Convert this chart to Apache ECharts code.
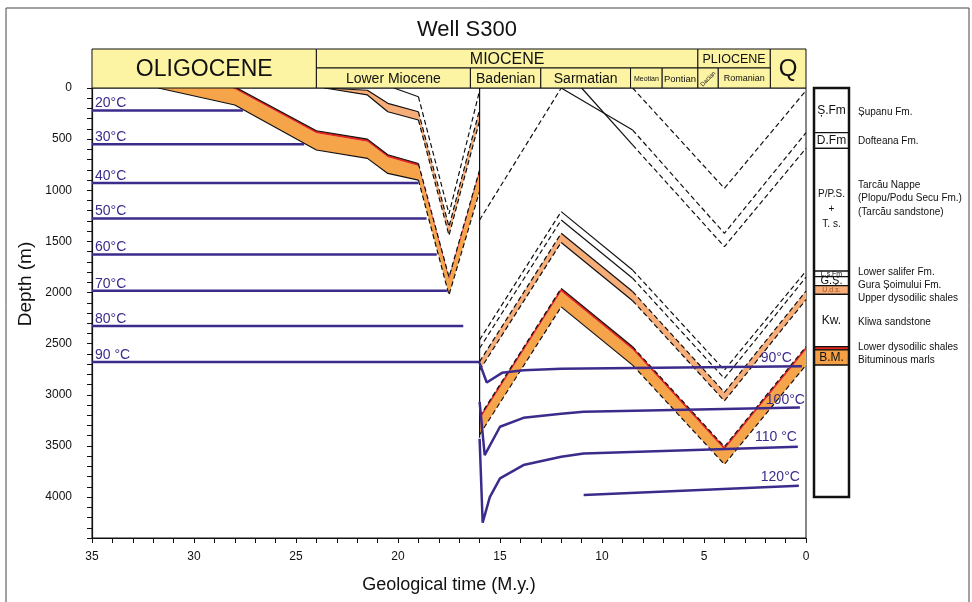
<!DOCTYPE html>
<html>
<head>
<meta charset="utf-8">
<title>Well S300</title>
<script src="https://cdn.jsdelivr.net/npm/echarts@6/dist/echarts.min.js"></script>
<style>
  html, body { margin: 0; padding: 0; background: #fff; }
  #chart { width: 972px; height: 602px; }
</style>
</head>
<body>
<div id="chart"></div>
<script>
// ---------- Time scale (M.y.) ----------
const periodNames = ['OLIGOCENE', 'MIOCENE', 'PLIOCENE', 'Q'];
const periodFrom  = [35, 24, 5.3, 1.75];
const periodTo    = [24, 5.3, 1.75, 0];
const stageNames  = ['Lower Miocene', 'Badenian', 'Sarmatian', 'Meotian', 'Pontian', 'Dacian', 'Romanian'];
const stageFrom   = [24, 16.45, 13.0, 8.6, 7.05, 5.3, 4.3];
const stageTo     = [16.45, 13.0, 8.6, 7.05, 5.3, 4.3, 1.75];

// ---------- Axis labels ----------
const timeLabels  = [35, 30, 25, 20, 15, 10, 5, 0];
const depthLabels = [0, 500, 1000, 1500, 2000, 2500, 3000, 3500, 4000];

// ---------- Isotherms before the 16 M.y. thrusting ----------
const isoNames = ['20°C', '30°C', '40°C', '50°C', '60°C', '70°C', '80°C', '90 °C'];
const isoDepth = [220, 550, 930, 1275, 1627, 1982, 2328, 2680];
const isoEnd   = [27.6, 24.6, 19.0, 18.6, 18.1, 17.6, 16.8, 16.0];

// ---------- Isotherms after thrusting [time, depth] ----------
const iso90  = [[16, 2690], [15.65, 2880], [14.9, 2785], [13.85, 2760], [12, 2745], [0.2, 2720]];
const iso100 = [[16, 3070], [15.75, 3590], [15, 3312], [13.85, 3225], [12, 3185], [10.9, 3165], [0.3, 3123]];
const iso110 = [[16, 3430], [15.85, 4250], [15.5, 4000], [15, 3817], [13.85, 3687], [12, 3606], [10.9, 3573], [0.4, 3508]];
const iso120 = [[10.9, 3980], [0.35, 3890]];
const postIsoNames = ['90°C', '100°C', '110 °C', '120°C'];

// ---------- Thrust fault ----------
const fault = [[16, 0], [16, 3420]];

// ---------- Burial paths before thrusting [time, depth] ----------
const preBmBase  = [[31.75, 0], [28, 166], [24, 606], [21.5, 688], [20.5, 835], [19, 900], [17.5, 2024], [16, 1010]];
const preBmTop   = [[28.1, 0], [24, 443], [21.5, 525], [20.5, 678], [19, 763], [17.5, 1875], [16, 830]];
const preRedTop  = [[27.9, 0], [24, 418], [21.5, 500], [20.5, 653], [19, 738], [17.5, 1848], [16, 800]];
const preUdsBase = [[23.6, 0], [21.5, 68], [20.5, 232], [19, 313], [17.5, 1440], [16, 320]];
const preUdsTop  = [[23.6, 0], [21.5, 22], [20.5, 150], [19, 232], [17.5, 1355], [16, 210]];
const preTop     = [[20.2, 0], [19, 85], [17.5, 1230], [16, 25]];

// ---------- Burial paths after thrusting [time, depth] ----------
const postSurface = [[16, 1291], [12, 0]];
const postSupanu  = [[8.5, 0], [4, 981], [0, 25]];
const postDoft    = [[12, 0], [8.5, 411], [4, 1421], [0, 437]];
const postPlopu   = [[11, 0], [8.5, 557], [4, 1551], [0, 590]];
const postLs      = [[16, 2463], [12, 1209], [8.5, 1780], [4, 2758], [0, 1790]];
const postGs      = [[16, 2545], [12, 1291], [8.5, 1860], [4, 2840], [0, 1850]];
const postUdsTop  = [[16, 2675], [12, 1421], [8.5, 1990], [4, 2975], [0, 1985]];
const postUdsBase = [[16, 2760], [12, 1510], [8.5, 2080], [4, 3060], [0, 2070]];
const postRedTop  = [[16, 3213], [12, 1959], [8.5, 2530], [4, 3507], [0, 2529]];
const postBmTop   = [[16, 3243], [12, 1989], [8.5, 2560], [4, 3537], [0, 2560]];
const postBmBase  = [[16, 3390], [12, 2140], [8.5, 2710], [4, 3680], [0, 2710]];

// ---------- Present-day lithostratigraphic column (m) ----------
const unitAbbr = ['Ș.Fm', 'D.Fm', 'P/P.S.\n+\nT. s.', 'L.s.Fm', 'G.Ș.', 'U.d.s.', 'Kw.', '', 'B.M.', ''];
const unitTop  = [0, 437, 590, 1790, 1845, 1933, 2018, 2529, 2560, 2709];
const unitBase = [437, 590, 1790, 1845, 1933, 2018, 2529, 2560, 2709, 4000];
const unitNames = ['Șupanu Fm.', 'Dofteana Fm.', 'Tarcău Nappe', '(Plopu/Podu Secu Fm.)', '(Tarcău sandstone)',
                   'Lower salifer Fm.', 'Gura Șoimului Fm.', 'Upper dysodilic shales', 'Kliwa sandstone',
                   'Lower dysodilic shales', 'Bituminous marls'];
const unitNameDepth = [235, 518, 948, 1076, 1210, 1799, 1926, 2053, 2288, 2530, 2660];

// ---------- Styles ----------
const FONT = '"Liberation Sans", Arial, sans-serif';
const PURPLE = '#3d2b8c';
const ORANGE = '#f5a44a';
const LIGHT_ORANGE = '#f6ad78';
const RED = '#e3261e';
const HEADER_FILL = '#fcf4a3';
const DASH = [5, 3];
const headerFont = { 'OLIGOCENE': 23, 'MIOCENE': 16, 'PLIOCENE': 12.5, 'Q': 24, 'Lower Miocene': 14,
  'Badenian': 14, 'Sarmatian': 14, 'Meotian': 7, 'Pontian': 9.5, 'Dacian': 6, 'Romanian': 9 };
const unitFill = ['#fff', '#fff', '#fff', '#fff', '#fff', LIGHT_ORANGE, '#fff', RED, '#f3a046', '#fff'];
const unitFont = [12, 12, 10, 7, 11, 7, 12, 10, 12, 10];
const postIsoOffset = [[-10, -8], [5, -7], [-1, -10], [1, -9]];

const series = [];

// Filled layer between two burial paths
function band(top, bottom, color, z) {
  const poly = top.concat(bottom.slice().reverse());
  series.push({
    type: 'custom', xAxisIndex: 0, yAxisIndex: 0, z: z, silent: true, animation: false,
    data: [[0, 0]],
    renderItem: function (params, api) {
      return { type: 'polygon', shape: { points: poly.map(function (p) { return api.coord(p); }) },
               style: { fill: color } };
    }
  });
}

function addLine(points, color, width, type, z) {
  series.push({
    type: 'line', xAxisIndex: 0, yAxisIndex: 0, data: points, symbol: 'none', silent: true,
    animation: false, z: z, lineStyle: { color: color, width: width, type: type }
  });
}

// Known deposition periods are drawn solid, reconstructed paths dashed
function isSolid(a, b) {
  const lo = Math.min(a[0], b[0]), hi = Math.max(a[0], b[0]);
  return lo >= 19 || (lo >= 8.5 && hi <= 12);
}
function horizon(points, color, width, z) {
  let run = [points[0]], runSolid = null;
  for (let i = 1; i < points.length; i++) {
    const s = isSolid(points[i - 1], points[i]);
    if (runSolid === null) runSolid = s;
    if (s !== runSolid) {
      addLine(run, color, width, runSolid ? 'solid' : DASH, z);
      run = [points[i - 1]];
      runSolid = s;
    }
    run.push(points[i]);
  }
  addLine(run, color, width, runSolid ? 'solid' : DASH, z);
}

// Layers
band(preBmTop, preBmBase, ORANGE, 1);
band(preRedTop, preBmTop, RED, 1);
band(preUdsTop, preUdsBase, LIGHT_ORANGE, 1);
band(postBmTop, postBmBase, ORANGE, 1);
band(postRedTop, postBmTop, RED, 1);
band(postUdsTop, postUdsBase, LIGHT_ORANGE, 1);

// Horizon outlines
[preBmBase, preRedTop, preUdsBase, preUdsTop, preTop,
 postSurface, postSupanu, postDoft, postPlopu, postLs, postGs,
 postUdsTop, postUdsBase, postRedTop, postBmBase].forEach(function (h) { horizon(h, '#111', 1.2, 3); });
addLine(fault, '#111', 1.2, 'solid', 3);

// Isotherms
isoDepth.forEach(function (d, i) { addLine([[35, d], [isoEnd[i], d]], PURPLE, 2.5, 'solid', 5); });
[iso90, iso100, iso110, iso120].forEach(function (l) { addLine(l, PURPLE, 2.5, 'solid', 5); });

// Text placed at data anchors
function textLayer(anchors, texts, styleFn, gridIdx) {
  series.push({
    type: 'custom', xAxisIndex: gridIdx, yAxisIndex: gridIdx, z: 12, silent: true, animation: false,
    data: anchors,
    renderItem: function (params, api) {
      const i = params.dataIndex;
      const p = api.coord([api.value(0), api.value(1)]);
      const s = styleFn(i);
      return { type: 'text', x: p[0] + (s.dx || 0), y: p[1] + (s.dy || 0), rotation: s.rotation || 0,
        style: { text: texts[i], fill: s.color || '#111', fontSize: s.size, fontFamily: FONT,
                 align: s.align || 'left', verticalAlign: 'middle', lineHeight: s.lineHeight || s.size } };
    }
  });
}
textLayer(isoDepth.map(function (d) { return [35, d]; }), isoNames,
  function () { return { dx: 3, dy: -7, size: 14, color: PURPLE }; }, 0);
const postIsoEnds = [iso90, iso100, iso110, iso120].map(function (l) { return l[l.length - 1]; });
textLayer(postIsoEnds, postIsoNames,
  function (i) { return { dx: postIsoOffset[i][0], dy: postIsoOffset[i][1], size: 14, color: PURPLE, align: 'right' }; }, 0);

// Chronostratigraphic header above the plot
const headerCells = [];
periodNames.forEach(function (n, i) {
  headerCells.push({ name: n, from: periodFrom[i], to: periodTo[i],
                     row: (n === 'OLIGOCENE' || n === 'Q') ? 'full' : 'top' });
});
stageNames.forEach(function (n, i) {
  headerCells.push({ name: n, from: stageFrom[i], to: stageTo[i], row: 'bottom' });
});
series.push({
  type: 'custom', xAxisIndex: 0, yAxisIndex: 0, z: 20, silent: true, animation: false, clip: false,
  data: headerCells.map(function (c) { return [c.from, c.to]; }),
  renderItem: function (params, api) {
    const c = headerCells[params.dataIndex];
    const a = api.coord([c.from, 0]), b = api.coord([c.to, 0]);
    const base = a[1], top = base - 39, mid = base - 20;
    let y0 = top, y1 = base;
    if (c.row === 'top') { y1 = mid; } else if (c.row === 'bottom') { y0 = mid; }
    const x0 = Math.min(a[0], b[0]), x1 = Math.max(a[0], b[0]);
    return { type: 'group', children: [
      { type: 'rect', shape: { x: x0, y: y0, width: x1 - x0, height: y1 - y0 },
        style: { fill: HEADER_FILL, stroke: '#111', lineWidth: 1 } },
      { type: 'text', x: (x0 + x1) / 2, y: (y0 + y1) / 2 + 1, rotation: c.name === 'Dacian' ? Math.PI / 4 : 0,
        style: { text: c.name, fontSize: headerFont[c.name], fontFamily: FONT, fill: '#111',
                 align: 'center', verticalAlign: 'middle' } }
    ] };
  }
});

// Lithostratigraphic column
series.push({
  type: 'custom', xAxisIndex: 1, yAxisIndex: 1, z: 6, silent: true, animation: false,
  data: unitTop.map(function (t, i) { return [t, unitBase[i]]; }),
  renderItem: function (params, api) {
    const i = params.dataIndex;
    const a = api.coord([0, unitTop[i]]), b = api.coord([1, unitBase[i]]);
    const children = [{ type: 'rect', shape: { x: a[0], y: a[1], width: b[0] - a[0], height: b[1] - a[1] },
      style: { fill: unitFill[i], stroke: '#111', lineWidth: 1.2 } }];
    if (unitAbbr[i]) {
      children.push({ type: 'text', x: (a[0] + b[0]) / 2, y: (a[1] + b[1]) / 2,
        style: { text: unitAbbr[i], fontSize: unitFont[i], fontFamily: FONT,
                 fill: unitAbbr[i] === 'U.d.s.' ? '#a5521a' : '#111',
                 align: 'center', verticalAlign: 'middle', lineHeight: 15 } });
    }
    return { type: 'group', children: children };
  }
});
series.push({
  type: 'custom', xAxisIndex: 1, yAxisIndex: 1, z: 7, silent: true, animation: false,
  data: [[unitTop[0], unitBase[unitBase.length - 1]]],
  renderItem: function (params, api) {
    const a = api.coord([0, api.value(0)]), b = api.coord([1, api.value(1)]);
    return { type: 'rect', shape: { x: a[0], y: a[1], width: b[0] - a[0], height: b[1] - a[1] },
             style: { fill: 'none', stroke: '#111', lineWidth: 2.5 } };
  }
});
textLayer(unitNameDepth.map(function (d) { return [1, d]; }), unitNames,
  function () { return { dx: 9, dy: 0, size: 10 }; }, 1);

const chart = echarts.init(document.getElementById('chart'), null, { renderer: 'canvas', width: 972, height: 602 });
chart.setOption({
  animation: false,
  backgroundColor: '#fff',
  title: { text: 'Well S300', left: 412, top: 14,
           textStyle: { fontSize: 22, fontWeight: 'normal', color: '#111', fontFamily: FONT } },
  graphic: [
    { type: 'rect', shape: { x: 6, y: 8, width: 963, height: 600 },
      style: { fill: 'none', stroke: '#444', lineWidth: 1 }, silent: true, z: -1 },
    { type: 'text', x: 26, y: 284, rotation: Math.PI / 2, silent: true,
      style: { text: 'Depth (m)', fontSize: 19, fontFamily: FONT, fill: '#111',
               align: 'center', verticalAlign: 'middle' } }
  ],
  grid: [
    { left: 92, right: 166, top: 88, bottom: 64, show: true, borderColor: '#111', borderWidth: 1 },
    { left: 814, width: 35, top: 88, bottom: 64 }
  ],
  xAxis: [
    { gridIndex: 0, type: 'value', min: 0, max: 35, interval: 1, inverse: true,
      axisLine: { show: true, onZero: false, lineStyle: { color: '#111', width: 1.2 } },
      axisTick: { show: true, length: 5, lineStyle: { color: '#111' } },
      axisLabel: { margin: 13, fontSize: 12, color: '#111', fontFamily: FONT,
                   formatter: function (v) { return timeLabels.indexOf(v) >= 0 ? String(v) : ''; } },
      splitLine: { show: false },
      name: 'Geological time (M.y.)', nameLocation: 'middle', nameGap: 38,
      nameTextStyle: { fontSize: 18, color: '#111', fontFamily: FONT } },
    { gridIndex: 1, type: 'value', min: 0, max: 1, show: false }
  ],
  yAxis: [
    { gridIndex: 0, type: 'value', min: 0, max: 4400, interval: 100, inverse: true,
      axisLine: { show: true, onZero: false, lineStyle: { color: '#111', width: 1.2 } },
      axisTick: { show: true, length: 5, lineStyle: { color: '#111' } },
      axisLabel: { margin: 20, fontSize: 12, color: '#111', fontFamily: FONT,
                   formatter: function (v) { return depthLabels.indexOf(v) >= 0 ? String(v) : ''; } },
      splitLine: { show: false } },
    { gridIndex: 1, type: 'value', min: 0, max: 4400, inverse: true, show: false }
  ],
  series: series
});
</script>
</body>
</html>
